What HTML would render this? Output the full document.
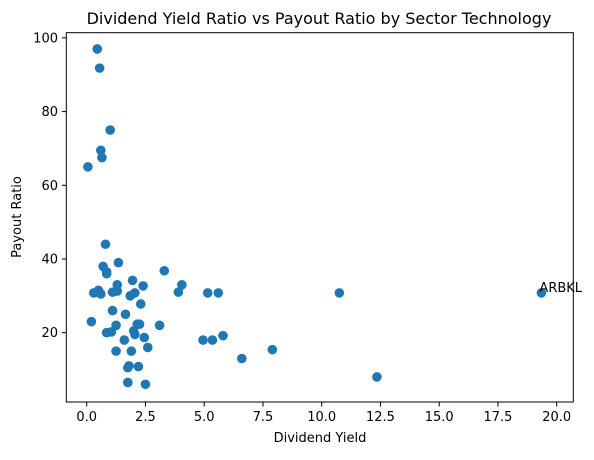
<!DOCTYPE html>
<html><head><meta charset="utf-8"><style>
body{margin:0;background:#fff;}
svg text{font-family:"DejaVu Sans","Liberation Sans",sans-serif;fill:#000;}
</style></head><body>
<svg id="chart" width="594" height="455" xmlns="http://www.w3.org/2000/svg">
<rect width="594" height="455" fill="#fff"/>
<text x="319" y="24" font-size="16" text-anchor="middle">Dividend Yield Ratio vs Payout Ratio by Sector Technology</text>
<g id="points"></g>
<rect x="66.3" y="32.7" width="507" height="369.3" fill="none" stroke="#000" stroke-width="1"/>
<g id="xt"></g>
<g id="yt"></g>
<text x="320" y="442" font-size="13" text-anchor="middle">Dividend Yield</text>
<text transform="translate(21,217) rotate(-90)" font-size="13" text-anchor="middle">Payout Ratio</text>
</svg>
<script>
const dividendYield=[0.45,0.55,1.0,0.6,0.65,0.05,0.8,0.7,0.85,0.85,1.35,0.2,0.3,0.45,0.5,0.55,0.6,1.1,1.3,1.3,1.85,2.05,1.95,2.4,1.1,1.65,2.3,0.85,1.05,1.25,2.0,2.05,2.25,2.15,1.6,1.25,1.9,2.45,2.6,1.8,1.75,2.2,1.75,2.5,3.1,3.3,3.9,4.05,5.15,5.6,4.95,5.35,5.8,6.6,7.9,10.75,12.35,19.35];
const payoutRatio=[97,91.8,75,69.5,67.5,65,44,38,36.5,36,39,23,30.8,31,31.5,30.8,30.5,31,31.3,33,30,30.8,34.2,32.7,26,25,27.8,20,20.2,22,20.5,19.5,22.3,22.3,18,15,15,18.7,16,11,10.5,10.8,6.5,6,22,36.8,31,33,30.8,30.8,18,18,19.2,13,15.4,30.8,8,30.8];
const xTicks=[0,2.5,5,7.5,10,12.5,15,17.5,20];
const yTicks=[20,40,60,80,100];
const NS="http://www.w3.org/2000/svg";
const X=v=>86.7+v*23.5;
const Y=v=>332.7-(v-20)*3.685;
const pts=document.getElementById('points');
dividendYield.forEach((d,i)=>{
  const c=document.createElementNS(NS,'circle');
  c.setAttribute('cx',X(d));c.setAttribute('cy',Y(payoutRatio[i]));c.setAttribute('r',4.8);c.setAttribute('fill','#1f77b4');
  
  
  pts.appendChild(c);
});
const lab=document.createElementNS(NS,'text');
lab.setAttribute('x',X(19.35)-2);lab.setAttribute('y',Y(30.8)-1);lab.setAttribute('font-size','13');lab.textContent='ARBKL';


pts.appendChild(lab);
const xt=document.getElementById('xt');
xTicks.forEach(t=>{
  const l=document.createElementNS(NS,'line');
  l.setAttribute('x1',X(t));l.setAttribute('x2',X(t));l.setAttribute('y1',402);l.setAttribute('y2',406.5);l.setAttribute('stroke','#000');
  
  
  xt.appendChild(l);
  const s=document.createElementNS(NS,'text');
  s.setAttribute('x',X(t));s.setAttribute('y',421);s.setAttribute('font-size','13');s.setAttribute('text-anchor','middle');s.textContent=t.toFixed(1);
  
  
  xt.appendChild(s);
});
const yt=document.getElementById('yt');
yTicks.forEach(t=>{
  const l=document.createElementNS(NS,'line');
  l.setAttribute('x1',61.8);l.setAttribute('x2',66.3);l.setAttribute('y1',Y(t));l.setAttribute('y2',Y(t));l.setAttribute('stroke','#000');
  
  
  yt.appendChild(l);
  const s=document.createElementNS(NS,'text');
  s.setAttribute('x',58);s.setAttribute('y',Y(t)+4.5);s.setAttribute('font-size','13');s.setAttribute('text-anchor','end');s.textContent=t;
  
  
  yt.appendChild(s);
});
</script>
</body></html>
